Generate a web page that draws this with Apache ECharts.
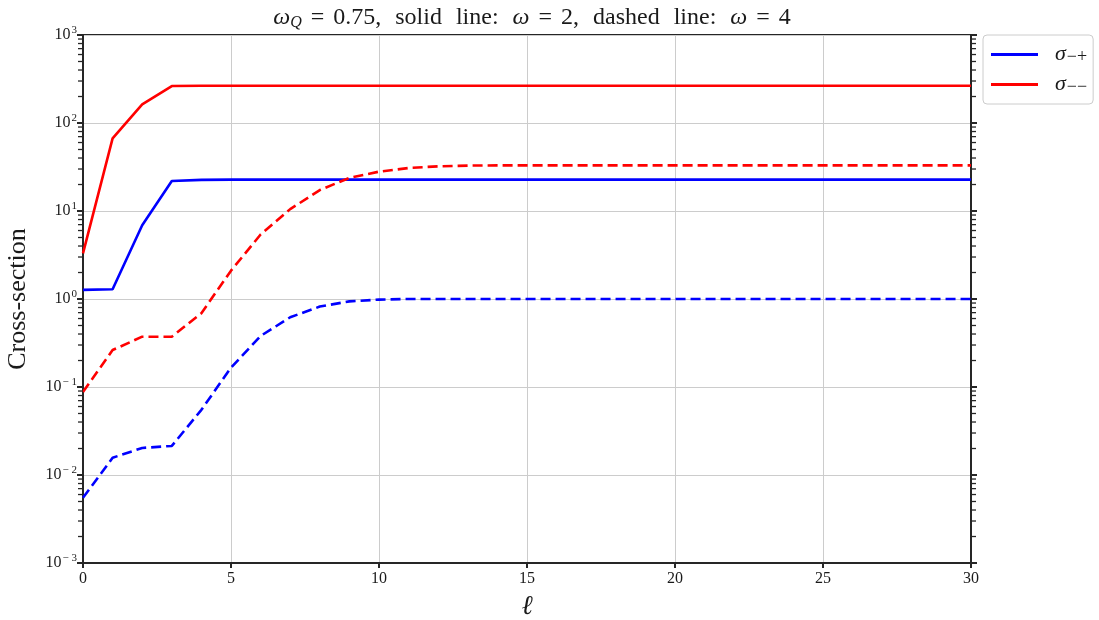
<!DOCTYPE html>
<html>
<head>
<meta charset="utf-8">
<script src="https://cdn.jsdelivr.net/npm/echarts@6/dist/echarts.min.js"></script>
<style>html,body{margin:0;padding:0;background:#fff}#c{width:1099px;height:620px}</style>
</head>
<body>
<div id="c"></div>
<script>
// ---- data ----
var ell = [0,1,2,3,4,5,6,7,8,9,10,11,12,13,14,15,16,17,18,19,20,21,22,23,24,25,26,27,28,29,30];
var sigMP_w2 = [1.27,1.29,6.9,21.9,22.6,22.7,22.7,22.7,22.7,22.7,22.7,22.7,22.7,22.7,22.7,22.7,22.7,22.7,22.7,22.7,22.7,22.7,22.7,22.7,22.7,22.7,22.7,22.7,22.7,22.7,22.7];
var sigMM_w2 = [3.3,67,163,263,265,265,265,265,265,265,265,265,265,265,265,265,265,265,265,265,265,265,265,265,265,265,265,265,265,265,265];
var sigMP_w4 = [0.0055,0.0157,0.0203,0.0214,0.055,0.166,0.38,0.62,0.82,0.94,0.985,1.0,1.0,1.0,1.0,1.0,1.0,1.0,1.0,1.0,1.0,1.0,1.0,1.0,1.0,1.0,1.0,1.0,1.0,1.0,1.0];
var sigMM_w4 = [0.088,0.263,0.373,0.373,0.69,2.1,5.4,10.5,17.3,23.8,28,30.8,32.2,32.8,33,33,33,33,33,33,33,33,33,33,33,33,33,33,33,33,33];
var seriesNames = ['σ−+', 'σ−−'];
var legendSubs = ['−+', '−−'];
var xTicks = [0,5,10,15,20,25,30];
var yExponents = [-3,-2,-1,0,1,2,3];
var minorTickValues = [];
yExponents.slice(0, -1).forEach(function (e) {
  [2,3,4,5,6,7,8,9].forEach(function (m) { minorTickValues.push(m * Math.pow(10, e)); });
});

var FONT = '"Liberation Serif", "DejaVu Serif", serif';
var AX = '#262626';
var TXT = '#1a1a1a';

function pairs(ys) { return ell.map(function (x, i) { return [x, ys[i]]; }); }

var chart = echarts.init(document.getElementById('c'), null, {renderer: 'canvas'});

var yLabel = {
  fontFamily: FONT, fontSize: 16, color: TXT, margin: 6,
  formatter: function (v) { return '10{sup|' + Math.round(Math.log10(v)).toString().replace('-', '− ') + '}'; },
  rich: { sup: { fontFamily: FONT, fontSize: 11, verticalAlign: 'top', padding: [0,0,9,1], color: TXT } }
};

function lineSeries(name, data, color, dashed) {
  return {
    type: 'line', name: name, data: pairs(data), symbol: 'none', showSymbol: false,
    lineStyle: { color: color, width: 2.6, type: dashed ? [10, 5] : 'solid', cap: 'butt' },
    itemStyle: { color: color }, z: 3, silent: true, animation: false
  };
}

var titleRich = {
  i: { fontFamily: FONT, fontSize: 24, fontStyle: 'italic', color: TXT },
  sub: { fontFamily: FONT, fontSize: 16, fontStyle: 'italic', verticalAlign: 'bottom', padding: [10,0,0,0], color: TXT },
  eq: { fontFamily: FONT, fontSize: 24, color: TXT, padding: [0,9,0,9] },
  sp: { fontFamily: FONT, fontSize: 24, color: TXT, padding: [0,4,0,4] }
};

var option = {
  animation: false,
  backgroundColor: '#fff',
  title: {
    left: 527, top: 0, textAlign: 'center',
    text: '{i|ω}{sub|Q}{eq|=}0.75,{sp| }solid{sp| }line:{sp| }{i|ω}{eq|=}2,{sp| }dashed{sp| }line:{sp| }{i|ω}{eq|=}4',
    textStyle: { fontFamily: FONT, fontSize: 24, fontWeight: 'normal', color: TXT, rich: titleRich }
  },
  grid: { left: 83, right: 128, top: 35, bottom: 57, outerBoundsMode: 'none', containLabel: false,
    show: true, borderColor: AX, borderWidth: 2, backgroundColor: 'transparent' },
  legend: {
    orient: 'vertical', left: 983, top: 35,
    data: seriesNames,
    icon: 'rect', itemWidth: 47, itemHeight: 3, itemGap: 7,
    padding: [8, 6, 8, 8],
    borderColor: '#cccccc', borderWidth: 1, borderRadius: 4, backgroundColor: '#fff',
    formatter: function (name) { return '{i|σ}{sub|' + legendSubs[seriesNames.indexOf(name)] + '}'; },
    textStyle: {
      fontFamily: FONT, fontSize: 21, color: TXT, padding: [0,0,0,12], lineHeight: 23,
      rich: {
        i: { fontFamily: FONT, fontSize: 22, fontStyle: 'italic', color: TXT },
        sub: { fontFamily: FONT, fontSize: 18, verticalAlign: 'bottom', padding: [9,0,0,1], color: TXT }
      }
    }
  },
  xAxis: {
    type: 'value', min: 0, max: 30, interval: 5,
    name: 'ℓ', nameLocation: 'middle', nameGap: 30,
    nameTextStyle: { fontFamily: FONT, fontSize: 27, fontStyle: 'italic', color: TXT },
    axisLine: { show: true, lineStyle: { color: AX, width: 2 } },
    axisTick: { show: true, length: 5, lineStyle: { color: AX, width: 2 } },
    axisLabel: { fontFamily: FONT, fontSize: 16, color: TXT, margin: 8, customValues: xTicks },
    splitLine: { show: true, lineStyle: { color: '#cccccc', width: 1 } }
  },
  yAxis: [{
    type: 'log', logBase: 10, min: 0.001, max: 1000, position: 'left',
    name: 'Cross-section', nameLocation: 'middle', nameGap: 52,
    nameTextStyle: { fontFamily: FONT, fontSize: 26, color: TXT },
    axisLine: { show: true, lineStyle: { color: AX, width: 2 } },
    axisTick: { show: true, length: 6, lineStyle: { color: AX, width: 2 } },
    axisLabel: yLabel,
    splitLine: { show: true, lineStyle: { color: '#cccccc', width: 1 } }
  }, {
    type: 'log', logBase: 10, min: 0.001, max: 1000, position: 'right',
    axisLine: { show: true, lineStyle: { color: AX, width: 2 } },
    axisTick: { show: true, length: 6, lineStyle: { color: AX, width: 2 } },
    axisLabel: { show: false },
    splitLine: { show: false }
  }],
  series: [
    lineSeries(seriesNames[0], sigMP_w2, '#0000ff', false),
    lineSeries(seriesNames[1], sigMM_w2, '#ff0000', false),
    lineSeries(seriesNames[0], sigMP_w4, '#0000ff', true),
    lineSeries(seriesNames[1], sigMM_w4, '#ff0000', true),
    {
      type: 'custom', name: 'minorTicks', silent: true, clip: false, z: 5,
      data: minorTickValues.map(function (v) { return [v]; }),
      renderItem: function (params, api) {
        var v = api.value(0);
        var pl = api.coord([0, v]);
        var pr = api.coord([30, v]);
        var st = { stroke: AX, lineWidth: 1.3 };
        return { type: 'group', children: [
          { type: 'line', shape: { x1: pl[0] - 5, y1: pl[1], x2: pl[0], y2: pl[1] }, style: st },
          { type: 'line', shape: { x1: pr[0], y1: pr[1], x2: pr[0] + 5, y2: pr[1] }, style: st }
        ]};
      },
      encode: { y: 0 }
    }
  ]
};
chart.setOption(option);
</script>
</body>
</html>
